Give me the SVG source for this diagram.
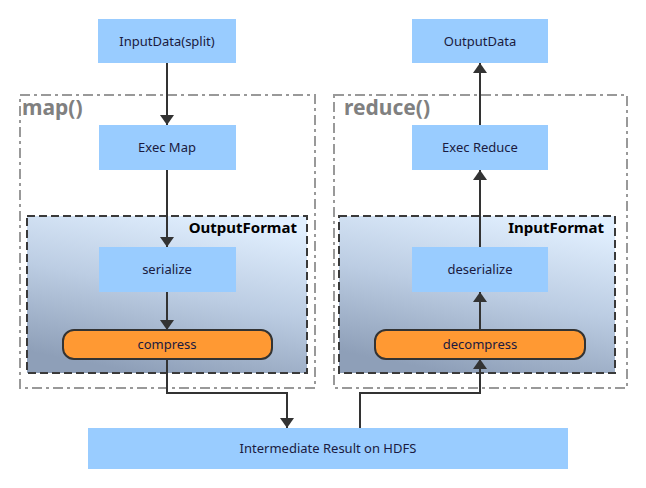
<svg xmlns="http://www.w3.org/2000/svg" width="646" height="488" viewBox="0 0 646 488">
<style>
.box{fill:#99ccff}
.pill{fill:#ff9933;stroke:#333;stroke-width:2}
.fmt{fill:url(#g);stroke:#3a3a3a;stroke-width:2;stroke-dasharray:8 4}
.cont{fill:none;stroke:#999;stroke-width:2;stroke-dasharray:10 4 3 4}
.t{font-family:"Noto Sans","Open Sans",sans-serif;font-size:13px;fill:#1a1a40;text-anchor:middle}
.ft{font-family:"Noto Sans","Open Sans",sans-serif;font-size:15px;font-weight:bold;fill:#000;text-anchor:end}
.ct{font-family:"Noto Sans","Open Sans",sans-serif;font-size:21px;font-weight:bold;fill:#808080}
.e{fill:none;stroke:#333;stroke-width:2;marker-end:url(#a)}
</style>
<defs>
<linearGradient id="g" x1="0.75" y1="0" x2="0.4" y2="1">
<stop offset="0" stop-color="#e2f0ff"/>
<stop offset="0.5" stop-color="#bccde3"/>
<stop offset="1" stop-color="#8e9fb8"/>
</linearGradient>
<marker id="a" viewBox="0 0 10 14" refX="10" refY="7" markerWidth="10" markerHeight="14" markerUnits="userSpaceOnUse" orient="auto">
<path d="M0,0 L10,7 L0,14 Z" fill="#333"/>
</marker>
</defs>
<g id="map-container">
<rect class="cont" x="20" y="95" width="295" height="293"/>
<text class="ct" x="22" y="115">map()</text>
</g>
<g id="reduce-container">
<rect class="cont" x="334" y="95" width="293" height="293"/>
<text class="ct" x="344" y="115">reduce()</text>
</g>
<g id="outputformat">
<rect class="fmt" x="27" y="216" width="280" height="157"/>
<text class="ft" x="297" y="233">OutputFormat</text>
</g>
<g id="inputformat">
<rect class="fmt" x="339" y="216" width="276" height="157"/>
<text class="ft" x="604" y="233">InputFormat</text>
</g>
<g id="inputdata">
<rect class="box" x="98" y="19" width="138" height="44"/>
<text class="t" x="167" y="46">InputData(split)</text>
</g>
<g id="outputdata">
<rect class="box" x="412" y="19" width="136" height="44"/>
<text class="t" x="480" y="46">OutputData</text>
</g>
<g id="execmap">
<rect class="box" x="99" y="125" width="137" height="45"/>
<text class="t" x="167" y="152">Exec Map</text>
</g>
<g id="execreduce">
<rect class="box" x="412" y="125" width="136" height="45"/>
<text class="t" x="480" y="152">Exec Reduce</text>
</g>
<g id="serialize">
<rect class="box" x="99" y="247" width="137" height="45"/>
<text class="t" x="167" y="274">serialize</text>
</g>
<g id="deserialize">
<rect class="box" x="412" y="247" width="136" height="45"/>
<text class="t" x="480" y="274">deserialize</text>
</g>
<g id="compress">
<rect class="pill" x="63" y="330" width="209" height="29" rx="11"/>
<text class="t" x="167" y="349">compress</text>
</g>
<g id="decompress">
<rect class="pill" x="375" y="330" width="210" height="29" rx="11"/>
<text class="t" x="480" y="349">decompress</text>
</g>
<g id="hdfs">
<rect class="box" x="88" y="428" width="480" height="41"/>
<text class="t" x="328" y="453">Intermediate Result on HDFS</text>
</g>
<g id="connectors">
<path class="e" d="M167,63 V125"/>
<path class="e" d="M167,170 V247"/>
<path class="e" d="M167,292 V330"/>
<path class="e" d="M167,359 V393 H287 V428"/>
<path class="e" d="M360,428 V393 H480 V359"/>
<path class="e" d="M480,330 V292"/>
<path class="e" d="M480,247 V170"/>
<path class="e" d="M480,125 V63"/>
</g>
</svg>
